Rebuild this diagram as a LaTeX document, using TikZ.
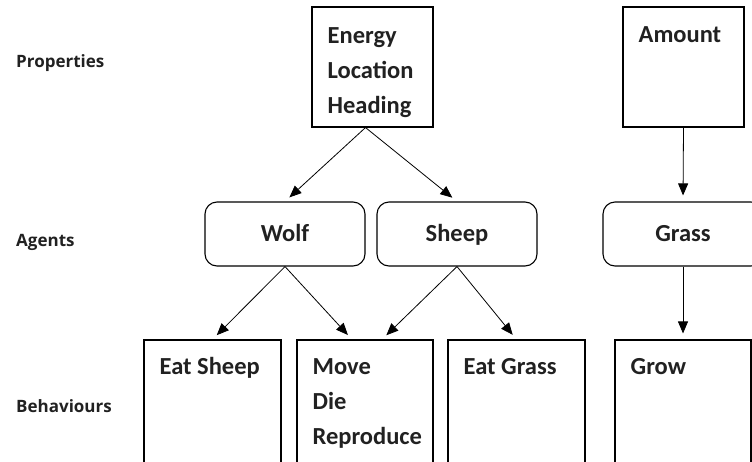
\documentclass[tikz,border=0pt]{standalone}
\usepackage{fontspec}
\setmainfont{Carlito}
\newfontfamily\openfont{Open Sans}
\usetikzlibrary{arrows.meta}
\tikzset{
  plainbox/.style={draw, line width=1.1pt, inner sep=0pt},
  agentbox/.style={draw, rounded corners=12pt, line width=1.1pt, inner sep=0pt,
    minimum width=160pt, minimum height=64pt, text=black!87,
    text height=18pt, text depth=4pt,
    font=\fontsize{24.5}{30}\selectfont\bfseries},
  boxtext/.style={anchor=base west, align=left, inner sep=0pt, text=black!87,
    font=\fontsize{24.5}{35}\selectfont\bfseries},
  rowlabel/.style={anchor=base west, inner sep=0pt, text=black!87,
    font=\openfont\fontsize{17}{20}\selectfont\bfseries},
  arr/.style={-{Triangle[length=12pt,width=10pt]}, line width=0.8pt, shorten >=6pt},
}
\begin{document}
\begin{tikzpicture}[x=1pt,y=-1pt]
\useasboundingbox (0,0) rectangle (752,461);
\clip (0,0) rectangle (752,461);
% row labels
\node[rowlabel] (lprop) at (16,67) {Properties};
\node[rowlabel] (lagent) at (16,246) {Agents};
\node[rowlabel] (lbehav) at (16,412) {Behaviours};
% properties
\node[plainbox, minimum width=121pt, minimum height=120pt] (prop) at (372.5,67) {};
\node[plainbox, minimum width=121pt, minimum height=120pt] (amount) at (683.5,67) {};
\node[boxtext] (proptext) at ([shift={(16pt,-107pt)}]prop.north west) {Energy\\Location\\Heading};
\node[boxtext] (amounttext) at ([shift={(16pt,-36pt)}]amount.north west) {Amount};
% agents
\node[agentbox] (wolf) at (285,234) {Wolf};
\node[agentbox] (sheep) at (457,234) {Sheep};
\node[agentbox] (grass) at (683,234) {Grass};
% behaviours
\node[plainbox, minimum width=137pt, minimum height=160pt] (eatsheep) at (212.5,420) {};
\node[plainbox, minimum width=136pt, minimum height=160pt] (move) at (365,420) {};
\node[plainbox, minimum width=137pt, minimum height=160pt] (eatgrass) at (516.5,420) {};
\node[plainbox, minimum width=136pt, minimum height=160pt] (grow) at (683,420) {};
\node[boxtext] (eatsheeptext) at ([shift={(16pt,-35pt)}]eatsheep.north west) {Eat Sheep};
\node[boxtext] (movetext) at ([shift={(16pt,-105pt)}]move.north west) {Move\\Die\\Reproduce};
\node[boxtext] (eatgrasstext) at ([shift={(16pt,-35pt)}]eatgrass.north west) {Eat Grass};
\node[boxtext] (growtext) at ([shift={(16pt,-35pt)}]grow.north west) {Grow};
% arrows
\draw[arr] ([xshift=-7pt]prop.south) -- (wolf.north);
\draw[arr] ([xshift=-7pt]prop.south) -- (sheep.north);
\draw[arr] (amount.south) -- (grass.north);
\draw[arr] (wolf.south) -- (eatsheep.north);
\draw[arr] (wolf.south) -- ([xshift=-13pt]move.north);
\draw[arr] (sheep.south) -- ([xshift=17pt]move.north);
\draw[arr] (sheep.south) -- (eatgrass.north);
\draw[arr] (grass.south) -- (grow.north);
\end{tikzpicture}
\end{document}
